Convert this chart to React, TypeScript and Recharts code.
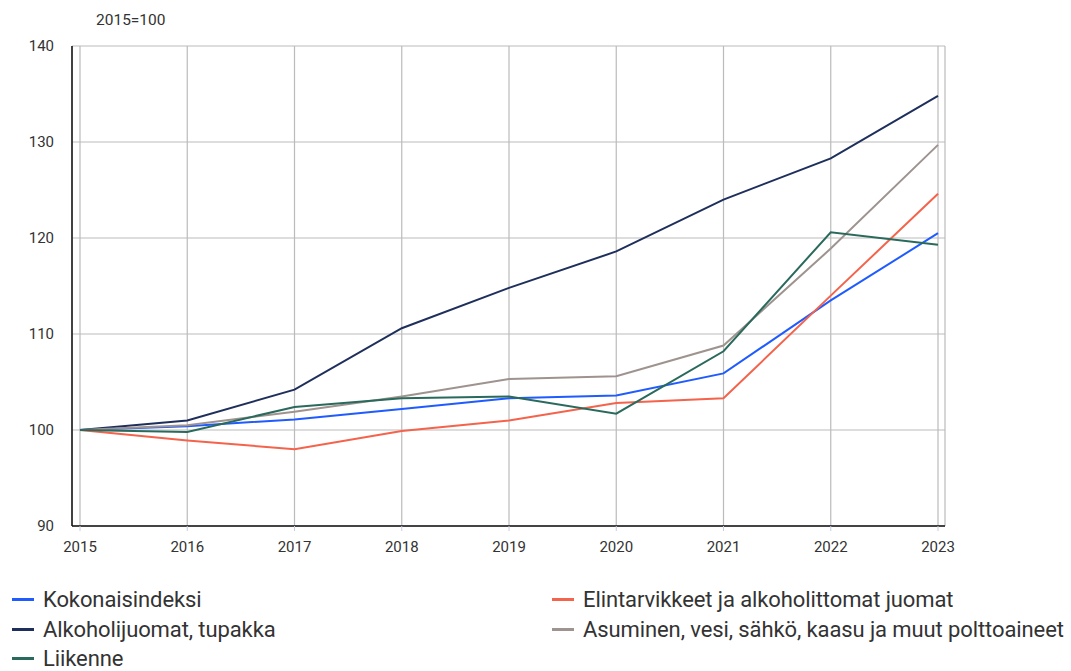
import React from "react";
import {
  LineChart,
  Line,
  XAxis,
  YAxis,
  CartesianGrid,
} from "recharts";

const years = ["2015", "2016", "2017", "2018", "2019", "2020", "2021", "2022", "2023"];

const kokonaisindeksi = [100, 100.4, 101.1, 102.2, 103.3, 103.6, 105.9, 113.5, 120.5];
const elintarvikkeet = [100, 98.9, 98.0, 99.9, 101.0, 102.8, 103.3, 114.0, 124.6];
const alkoholijuomat = [100, 101.0, 104.2, 110.6, 114.8, 118.6, 124.0, 128.3, 134.8];
const asuminen = [100, 100.5, 101.9, 103.5, 105.3, 105.6, 108.8, 118.9, 129.7];
const liikenne = [100, 99.8, 102.4, 103.3, 103.5, 101.7, 108.2, 120.6, 119.3];

const yTicks = [90, 100, 110, 120, 130, 140];

const series = [
  { key: "kok", name: "Kokonaisindeksi", color: "#1f5bff", values: kokonaisindeksi },
  { key: "eli", name: "Elintarvikkeet ja alkoholittomat juomat", color: "#f4634b", values: elintarvikkeet },
  { key: "alk", name: "Alkoholijuomat, tupakka", color: "#1f2f5c", values: alkoholijuomat },
  { key: "asu", name: "Asuminen, vesi, sähkö, kaasu ja muut polttoaineet", color: "#9e938f", values: asuminen },
  { key: "lii", name: "Liikenne", color: "#2a6a5c", values: liikenne },
];

const data = years.map((year, i) => {
  const row: Record<string, string | number> = { year };
  series.forEach((s) => {
    row[s.key] = s.values[i];
  });
  return row;
});

const font = "Roboto, 'Noto Sans', sans-serif";

// legend order as in the original: two columns
const legendSlots = [
  { s: series[0], left: 12, top: 587 },
  { s: series[1], left: 552, top: 587 },
  { s: series[2], left: 12, top: 617 },
  { s: series[3], left: 552, top: 617 },
  { s: series[4], left: 12, top: 646 },
];

export default function App() {
  return (
    <div
      style={{
        position: "fixed",
        left: 0,
        top: 0,
        width: 1071,
        height: 671,
        background: "#fff",
        fontFamily: font,
        color: "#333",
      }}
    >
      <div style={{ position: "absolute", left: 96, top: 11, fontSize: 15.5 }}>2015=100</div>
      <LineChart
        width={1071}
        height={580}
        data={data}
        margin={{ top: 46, right: 126, left: 0, bottom: 0 }}
      >
        <CartesianGrid stroke="#bbbbbb" strokeWidth={1.2} />
        <XAxis
          dataKey="year"
          height={54}
          padding={{ left: 8, right: 7 }}
          axisLine={{ stroke: "#111", strokeWidth: 1.5 }}
          tickLine={{ stroke: "#c8cce0" }}
          tickSize={5}
          tickMargin={10}
          tick={{ fill: "#333", fontSize: 15, fontFamily: font }}
          interval={0}
        />
        <YAxis
          width={72}
          domain={[90, 140]}
          ticks={yTicks}
          axisLine={{ stroke: "#111", strokeWidth: 1.5 }}
          tickLine={false}
          tickMargin={12}
          tick={{ fill: "#333", fontSize: 15, fontFamily: font }}
        />
        {series.map((s) => (
          <Line
            key={s.key}
            dataKey={s.key}
            name={s.name}
            stroke={s.color}
            strokeWidth={2}
            dot={false}
            activeDot={false}
            type="linear"
            isAnimationActive={false}
          />
        ))}
      </LineChart>
      {legendSlots.map(({ s, left, top }) => (
        <div
          key={s.key}
          style={{
            position: "absolute",
            left,
            top,
            display: "flex",
            alignItems: "center",
            fontSize: 22,
            letterSpacing: -0.1,
            whiteSpace: "nowrap",
          }}
        >
          <span
            style={{
              display: "inline-block",
              width: 22,
              height: 3,
              background: s.color,
              marginRight: 9,
            }}
          />
          {s.name}
        </div>
      ))}
    </div>
  );
}
